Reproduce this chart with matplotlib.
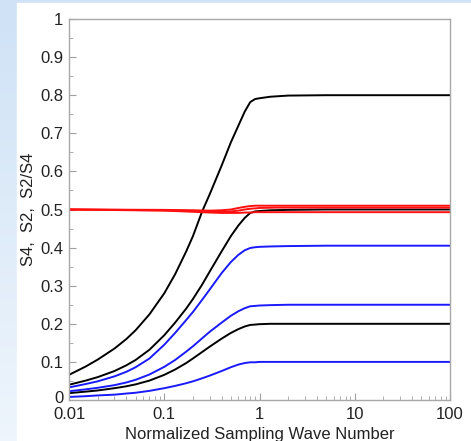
import numpy as np
import matplotlib
matplotlib.use('Agg')
from matplotlib import pyplot as plt
from matplotlib.patches import Rectangle
from matplotlib.transforms import ScaledTranslation
from matplotlib.ticker import FixedLocator, LogLocator, NullFormatter, FuncFormatter

# Sampling wave number (log axis) and curve values
wave = [0.01, 0.015, 0.02, 0.03, 0.04, 0.05, 0.07, 0.1, 0.13, 0.17, 0.2, 0.25,
        0.3, 0.4, 0.5, 0.6, 0.7, 0.8, 0.9, 1.0, 1.3, 2.0, 5.0, 100]

s4_high = [0.066, 0.088, 0.106, 0.135, 0.160, 0.183, 0.225, 0.280, 0.330, 0.390, 0.430, 0.495,
           0.540, 0.615, 0.676, 0.720, 0.757, 0.782, 0.790, 0.792, 0.796, 0.799, 0.800, 0.800]
s4_mid = [0.040, 0.051, 0.060, 0.076, 0.091, 0.105, 0.132, 0.170, 0.203, 0.240, 0.265, 0.303,
          0.337, 0.390, 0.430, 0.458, 0.478, 0.491, 0.495, 0.496, 0.498, 0.499, 0.500, 0.500]
s4_low = [0.018, 0.022, 0.025, 0.031, 0.036, 0.041, 0.051, 0.066, 0.080, 0.097, 0.109, 0.126,
          0.140, 0.161, 0.176, 0.186, 0.193, 0.197, 0.198, 0.199, 0.200, 0.200, 0.200, 0.200]

s2_high = [0.033, 0.042, 0.049, 0.062, 0.074, 0.086, 0.109, 0.145, 0.176, 0.210, 0.231, 0.263,
           0.290, 0.333, 0.362, 0.381, 0.393, 0.399, 0.401, 0.402, 0.403, 0.404, 0.405, 0.405]
s2_mid = [0.023, 0.028, 0.032, 0.039, 0.046, 0.053, 0.067, 0.087, 0.105, 0.127, 0.141, 0.162,
          0.179, 0.203, 0.221, 0.233, 0.241, 0.246, 0.247, 0.248, 0.249, 0.250, 0.250, 0.250]
s2_low = [0.008, 0.010, 0.012, 0.014, 0.017, 0.019, 0.024, 0.031, 0.037, 0.044, 0.049, 0.057,
          0.064, 0.076, 0.086, 0.093, 0.097, 0.099, 0.099, 0.100, 0.100, 0.100, 0.100, 0.100]

wave_ratio = [0.01, 0.1, 0.2, 0.3, 0.4, 0.5, 0.6, 0.7, 0.8, 0.9, 1.0, 1.5, 2.0, 100]
ratio_1 = [0.500, 0.499, 0.498, 0.497, 0.498, 0.500, 0.504, 0.507, 0.509, 0.510, 0.510, 0.510, 0.510, 0.510]
ratio_2 = [0.500, 0.498, 0.496, 0.495, 0.494, 0.495, 0.497, 0.500, 0.502, 0.503, 0.504, 0.505, 0.505, 0.505]
ratio_3 = [0.500, 0.497, 0.494, 0.492, 0.491, 0.491, 0.491, 0.492, 0.492, 0.493, 0.493, 0.493, 0.493, 0.493]

plt.rcParams['font.family'] = ['Liberation Sans', 'DejaVu Sans']

W, H = 471, 441
fig = plt.figure(figsize=(W / 100, H / 100), dpi=100, facecolor='white')

# light blue slide background on the left / top edge
bg = fig.add_axes([0, 0, 1, 1], zorder=-10)
grad = np.linspace(0, 1, 100)[:, None] * np.ones((1, 10))
bg.imshow(grad, cmap=matplotlib.colors.LinearSegmentedColormap.from_list(
    'bgc', ['#cfe2f6', '#eef5fc']), extent=[0, W, 0, H], aspect='auto', origin='upper')
bg.add_patch(Rectangle((17, 0), W - 17, H - 3, color='white'))
bg.set_xlim(0, W)
bg.set_ylim(0, H)
bg.axis('off')

ax = fig.add_axes([69 / W, 41 / H, 381 / W, 381 / H])
lw = 1.4
for vals in (s4_high, s4_mid, s4_low):
    ax.plot(wave, vals, color='black', lw=lw)
for vals in (s2_high, s2_mid, s2_low):
    ax.plot(wave, vals, color='#1a1aff', lw=lw)
for vals in (ratio_1, ratio_2, ratio_3):
    ax.plot(wave_ratio, vals, color='#ff1010', lw=lw)

ax.set_xscale('log')
ax.set_xlim(0.01, 100)
ax.set_ylim(0, 1)

ax.xaxis.set_major_locator(FixedLocator([0.01, 0.1, 1, 10, 100]))
ax.xaxis.set_major_formatter(FuncFormatter(lambda v, p: '%g' % v))
ax.xaxis.set_minor_locator(LogLocator(base=10, subs=np.arange(2, 10), numticks=20))
ax.xaxis.set_minor_formatter(NullFormatter())
ax.yaxis.set_major_locator(FixedLocator(np.arange(0, 1.01, 0.1)))
ax.yaxis.set_major_formatter(FuncFormatter(lambda v, p: '%g' % round(v, 1)))
ax.yaxis.set_minor_locator(FixedLocator(np.arange(0.05, 1.0, 0.1)))

ax.tick_params(axis='both', which='major', direction='in', length=5, width=0.8,
               color='#a0a0a0', labelsize=12, labelcolor='#222222', pad=4)
ax.tick_params(axis='x', which='major', pad=5)
ax.tick_params(axis='both', which='minor', direction='in', length=3, width=0.6,
               color='#a0a0a0')
for sp in ax.spines.values():
    sp.set_color('#a8a8a8')
    sp.set_linewidth(1.0)

ax.set_xlabel('Normalized Sampling Wave Number', fontsize=12, color='#222222', labelpad=4)
ax.set_ylabel('S4,  S2,  S2/S4', fontsize=12, color='#222222', labelpad=3)

# nudge the "0" label up a little so it clears "0.01"
fig.canvas.draw()
zero_lbl = ax.yaxis.get_major_ticks()[0].label1
zero_lbl.set_transform(zero_lbl.get_transform() + ScaledTranslation(0, 3 / 100, fig.dpi_scale_trans))

fig.savefig('out.png', dpi=100)
